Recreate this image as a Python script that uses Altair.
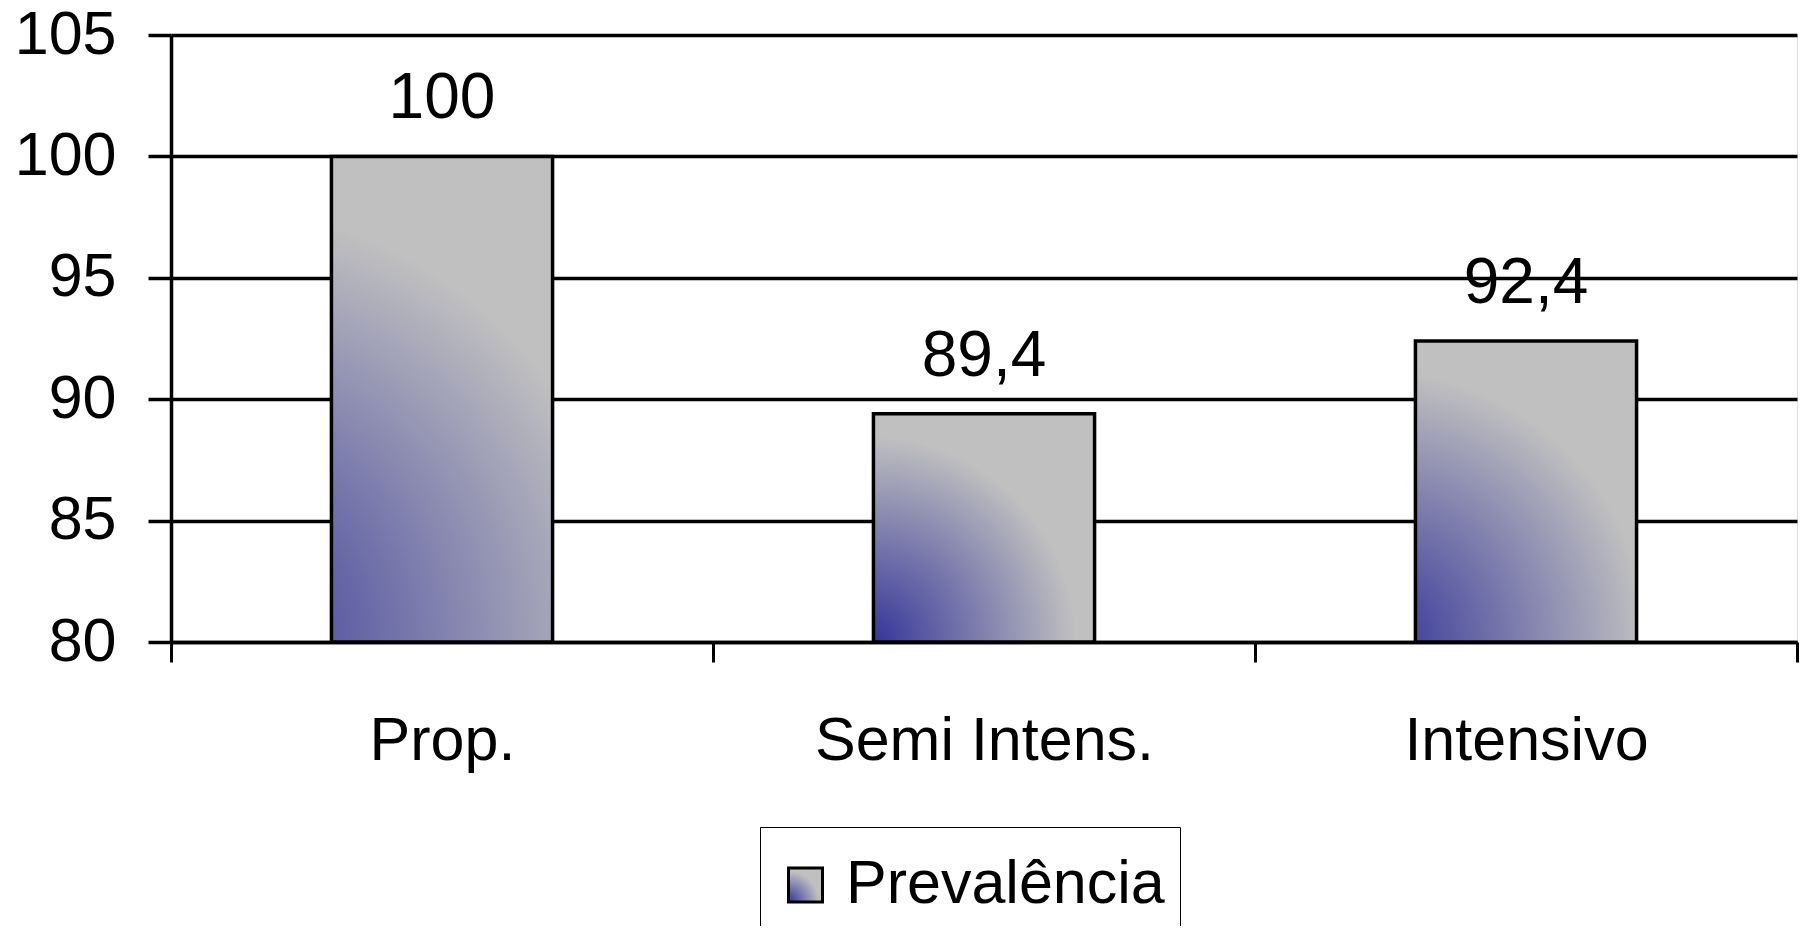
import altair as alt
import pandas as pd

categories = ["Prop.", "Semi Intens.", "Intensivo"]
values = [100, 89.4, 92.4]
value_labels = ["100", "89,4", "92,4"]
series_name = "Prevalência"
y_ticks = [80, 85, 90, 95, 100, 105]

df = pd.DataFrame({
    "cat": categories,
    "val": values,
    "lab": value_labels,
    "series": [series_name] * len(categories),
})

FONT = "Liberation Sans"
FS = 61

grad = alt.RadialGradient(
    gradient="radial",
    x1=0, y1=1, r1=0,
    x2=0, y2=1, r2=1.0,
    stops=[
        alt.GradientStop(offset=0, color="#333399"),
        alt.GradientStop(offset=0.9, color="#C0C0C0"),
        alt.GradientStop(offset=1, color="#C0C0C0"),
    ],
)

x_enc = alt.X(
    "cat:N",
    sort=categories,
    scale=alt.Scale(paddingInner=0, paddingOuter=0),
    axis=alt.Axis(
        title=None, labelAngle=0, tickBand="extent", tickSize=20, tickWidth=3,
        tickColor="black", domainColor="black", domainWidth=3.5,
        labelPadding=97, labelBaseline="alphabetic", labelFontSize=FS,
        labelFont=FONT, labelColor="black", grid=False, labelLimit=0,
    ),
)

y_scale = alt.Scale(domain=[80, 105], zero=False, nice=False)

bars = alt.Chart(df).mark_bar(
    fill=grad, strokeWidth=3.5, width=alt.RelativeBandSize(0.408)
).encode(
    x=x_enc,
    y=alt.Y(
        "val:Q",
        scale=y_scale,
        axis=alt.Axis(
            title=None, values=y_ticks, grid=True, gridColor="black", gridWidth=3.5,
            gridOpacity=1, domainColor="black", domainWidth=3.5, tickColor="black",
            tickWidth=3.5, tickSize=23, labelFontSize=FS, labelFont=FONT,
            labelColor="black", labelPadding=32, labelLimit=0,
        ),
    ),
    y2=alt.datum(80),
    stroke=alt.Stroke(
        "series:N",
        scale=alt.Scale(range=["black"]),
        legend=alt.Legend(
            title=None, orient="none", legendX=589, legendY=792,
            strokeColor="black", fillColor="white", padding=15,
            labelFontSize=FS, labelFont=FONT, labelColor="black", labelLimit=0,
            symbolType="square", symbolSize=1156, symbolStrokeWidth=3,
            symbolFillColor="#8d8db0", labelOffset=10, clipHeight=86,
        ),
    ),
)

texts = alt.Chart(df).mark_text(
    fontSize=64, font=FONT, color="black", baseline="alphabetic", dy=-38
).encode(
    x=alt.X("cat:N", sort=categories),
    y=alt.Y("val:Q", scale=y_scale),
    text="lab:N",
)

chart = alt.layer(bars, texts).properties(
    width=1626,
    height=607,
    autosize=alt.AutoSizeParams(type="none"),
    padding={"left": 163, "top": 27, "right": 7, "bottom": 284},
).configure_view(stroke=None).configure(font=FONT)

chart.save("out.html", embed_options={"renderer": "svg", "actions": False})
